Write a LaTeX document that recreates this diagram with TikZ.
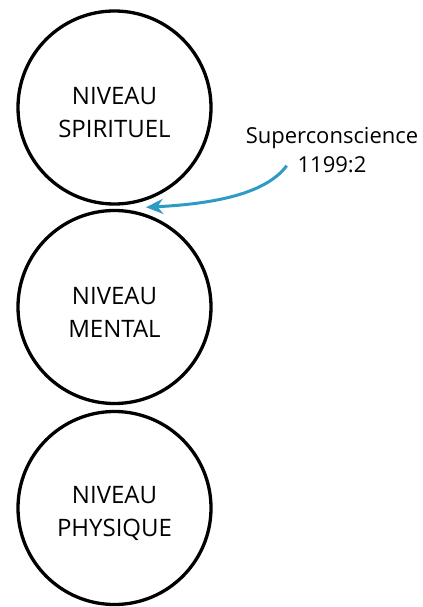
\documentclass[tikz,border=0pt]{standalone}
\usepackage{fontspec}
\setmainfont{Open Sans}
\usetikzlibrary{arrows.meta}
\definecolor{arrblue}{HTML}{2E9AC6}
\tikzset{
  level/.style={circle, draw=black, line width=3.3bp, minimum size=193bp, inner sep=0pt},
  lvltxt/.style={align=center, inner sep=0pt, font=\fontsize{24bp}{33bp}\selectfont},
  lbl/.style={align=center, font=\fontsize{22bp}{29bp}\selectfont},
  conn/.style={draw=arrblue, line width=3bp, -{Stealth[length=17bp, width=15bp]}}
}
\begin{document}
\begin{tikzpicture}[x=1bp, y=-1bp]
\useasboundingbox (0,0) rectangle (422,607);
\node[level] (spi) at (114.5,107.5) {};
\node[level] (men) at (114.5,307) {};
\node[level] (phy) at (114.5,508) {};
\node[lvltxt] (spit) at ([yshift=-5bp]spi.center) {NIVEAU\\SPIRITUEL};
\node[lvltxt] (ment) at ([yshift=-5bp]men.center) {NIVEAU\\MENTAL};
\node[lvltxt] (phyt) at ([yshift=-5bp]phy.center) {NIVEAU\\PHYSIQUE};
\node[lbl] (sup) at (332,150) {Superconscience\\1199:2};
\coordinate (tip) at (146,207.3);
\coordinate (st) at (286.7,165.7);
\draw[conn] (st) .. controls (265,195) and (210,204) .. (tip);
\end{tikzpicture}
\end{document}
